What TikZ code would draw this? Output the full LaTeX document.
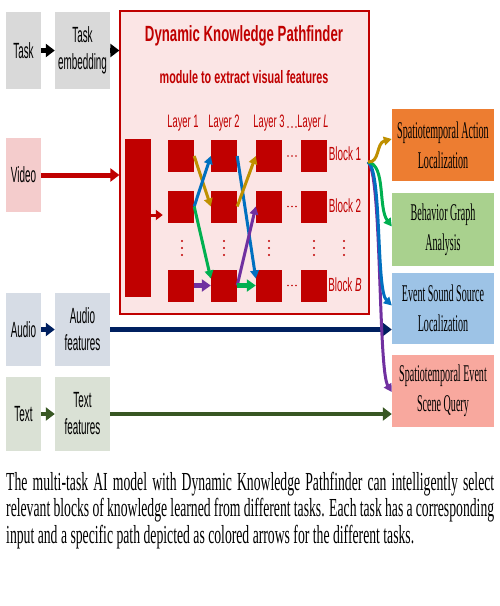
\documentclass[tikz,border=0pt]{standalone}
\usepackage{fontspec}
\usetikzlibrary{arrows.meta}
\setmainfont{Liberation Serif}
\newfontfamily\lblfont[FakeStretch=0.45]{Liberation Sans}
\newfontfamily\redfont[FakeStretch=0.52]{Liberation Sans}
\newfontfamily\ttlfont[FakeStretch=0.6]{Liberation Sans}
\newfontfamily\taskfont[FakeStretch=0.42]{Liberation Serif}
\newfontfamily\capfont[FakeStretch=0.527]{Liberation Serif}
\definecolor{dred}{HTML}{C00000}
\definecolor{modfill}{HTML}{FBE5E5}
\definecolor{graybox}{HTML}{D9D9D9}
\definecolor{vidbox}{HTML}{F4CCCC}
\definecolor{audbox}{HTML}{D6DCE5}
\definecolor{txtbox}{HTML}{DAE1D5}
\definecolor{pgold}{HTML}{BF9000}
\definecolor{pblue}{HTML}{0070C0}
\definecolor{pgreen}{HTML}{00B050}
\definecolor{ppurple}{HTML}{7030A0}
\definecolor{navy}{HTML}{002060}
\definecolor{dgreen}{HTML}{385723}
\definecolor{orangebox}{HTML}{ED7D31}
\definecolor{greenbox}{HTML}{A9D18E}
\definecolor{bluebox}{HTML}{9DC3E6}
\definecolor{pinkbox}{HTML}{F8A89E}
\tikzset{
  inbox/.style={inner sep=0pt, minimum width=#1, align=center,
    font=\lblfont\fontsize{22}{27}\selectfont},
  blk/.style={fill=dred, inner sep=0pt, minimum width=26pt, minimum height=32pt},
  taskbox/.style={fill=#1, inner sep=0pt, minimum width=102pt, align=center,
    font=\taskfont\fontsize{24}{30}\selectfont},
  redlbl/.style={text=dred, inner sep=0pt, font=\redfont\fontsize{18}{20}\selectfont},
  blklbl/.style={text=dred, inner sep=0pt, font=\redfont\fontsize{19}{20}\selectfont},
  rdot/.style={fill=dred, circle, inner sep=0pt, minimum size=2.2pt},
  bigarr/.style={line width=4.5pt, -{Triangle[length=9pt,width=13pt]}},
  patharr/.style={line width=3pt, -{Triangle[length=8pt,width=8.5pt]}},
  fatarr/.style={line width=5pt, -{Triangle[length=9pt,width=12pt]}},
  capline/.style={anchor=base west, inner sep=0pt, font=\capfont\fontsize{26}{26.5}\selectfont},
}
\begin{document}
\begin{tikzpicture}[x=1pt,y=-1pt]
\fill[white] (0,0) rectangle (500,606);
\useasboundingbox (0,0) rectangle (500,606);
% module
\node[draw=dred, line width=1.2pt, fill=modfill, inner sep=0pt, minimum width=249pt, minimum height=303pt] (mod) at (244.5,162.5) {};
\node[text=dred, inner sep=0pt, font=\ttlfont\bfseries\fontsize{22}{24}\selectfont] (title1) at (244,36) {Dynamic Knowledge Pathfinder};
\node[text=dred, inner sep=0pt, font=\ttlfont\bfseries\fontsize{18}{20}\selectfont] (title2) at (244,77) {module to extract visual features};
% left boxes
\node[inbox=35pt, fill=graybox, minimum height=77pt] (task) at (23.5,50.5) {Task};
\node[inbox=55pt, fill=graybox, minimum height=77pt] (temb) at (82.5,50.5) {Task\\embedding};
\node[inbox=35pt, fill=vidbox, minimum height=74pt] (video) at (23.5,175) {Video};
\node[inbox=35pt, fill=audbox, minimum height=73pt] (audio) at (23.5,329.5) {Audio};
\node[inbox=55pt, fill=audbox, minimum height=73pt] (afeat) at (82.5,329.5) {Audio\\features};
\node[inbox=35pt, fill=txtbox, minimum height=74pt] (text) at (23.5,414) {Text};
\node[inbox=55pt, fill=txtbox, minimum height=74pt] (tfeat) at (82.5,414) {Text\\features};
% right boxes
\node[taskbox=orangebox, minimum height=72pt] (sal) at (443,145) {Spatiotemporal Action\\Localization};
\node[taskbox=greenbox, minimum height=73pt] (bga) at (443,229.5) {Behavior Graph\\Analysis};
\node[taskbox=bluebox, minimum height=71pt] (essl) at (443,308.5) {Event Sound Source\\Localization};
\node[taskbox=pinkbox, minimum height=72pt] (seq) at (443,391) {Spatiotemporal Event\\Scene Query};
% bar and blocks (b<layer><row>)
\node[fill=dred, inner sep=0pt, minimum width=26pt, minimum height=158pt] (bar) at (138,218) {};
\foreach \c/\x in {1/181,2/224,3/269,L/314}{
  \foreach \r/\y in {1/156,2/206.5,B/285.5}{
    \node[blk] (b\c\r) at (\x,\y) {};
  }
}
% labels
\node[redlbl] (lay1) at (183,123) {Layer 1};
\node[redlbl] (lay2) at (224,123) {Layer 2};
\node[redlbl] (lay3) at (269,123) {Layer 3};
\node[redlbl] (layL) at (313,123) {Layer \textit{L}};
\foreach \k in {-4,0,4}{ \node[rdot, minimum size=1.6pt] at (292+\k,127) {}; }
\node[blklbl] (bl1) at (345,154) {Block 1};
\node[blklbl] (bl2) at (345,206) {Block 2};
\node[blklbl] (blB) at (345,285) {Block \textit{B}};
\foreach \y in {156,206.5,285.5}{
  \foreach \k in {-4,0,4}{ \node[rdot, minimum size=1.6pt] at (292+\k,\y) {}; }
}
\foreach \x in {182,224,269,314,344}{
  \foreach \k in {-7,0,7}{ \node[rdot] at (\x,248+\k) {}; }
}
% input arrows
\draw[bigarr, black] (task.east) -- (temb.west);
\draw[bigarr, black] (temb.east) -- (mod.west |- temb.east);
\draw[bigarr, line width=5pt, dred] (video.east) -- (mod.west |- video.east);
\draw[line width=3pt, dred, -{Triangle[length=7pt,width=10pt]}] ([yshift=3pt]bar.east) -- ([xshift=-5pt,yshift=-8.5pt]b12.west);
\draw[bigarr, navy] (audio.east) -- (afeat.west);
\draw[bigarr, navy] (afeat.east) -- (afeat.east -| essl.west);
\draw[bigarr, dgreen] (text.east) -- (tfeat.west);
\draw[bigarr, dgreen] (tfeat.east) -- (tfeat.east -| seq.west);
% paths inside
\draw[patharr, pgold] (b11.east) -- (b22.west);
\draw[patharr, pblue] (b21.east) -- ([yshift=7pt]b3B.west);
\draw[patharr, pblue] (b12.east) -- (b21.west);
\draw[patharr, pgreen] (b12.east) -- ([yshift=7pt]b2B.west);
\draw[patharr, pgold] (b22.east) -- (b31.west);
\draw[patharr, ppurple] (b2B.east) -- (b32.west);
\draw[fatarr, ppurple] (b1B.east) -- (b2B.west);
\draw[fatarr, pgreen] (b2B.east) -- (b3B.west);
% outputs
\coordinate (hub) at (368,162);
\draw[patharr, ppurple] (hub) .. controls (382,172) and (378,370) .. ([yshift=-1pt]seq.west);
\draw[patharr, pblue] (hub) .. controls (382,170) and (376,290) .. ([yshift=3pt]essl.west);
\draw[patharr, pgreen] (hub) .. controls (386,165) and (378,208) .. ([yshift=3pt]bga.west);
\draw[patharr, pgold] (hub) .. controls (380,163) and (376,143) .. ([yshift=6pt]sal.west);
% caption
\node[capline] (cap1) at (6,490) {\makebox[488pt][s]{The multi-task AI model with Dynamic Knowledge Pathfinder can intelligently select}};
\node[capline] (cap2) at (6,516.5) {\makebox[488pt][s]{relevant blocks of knowledge learned from different tasks. Each task has a corresponding}};
\node[capline] (cap3) at (6,543) {input and a specific path depicted as colored arrows for the different tasks.};
\end{tikzpicture}
\end{document}
